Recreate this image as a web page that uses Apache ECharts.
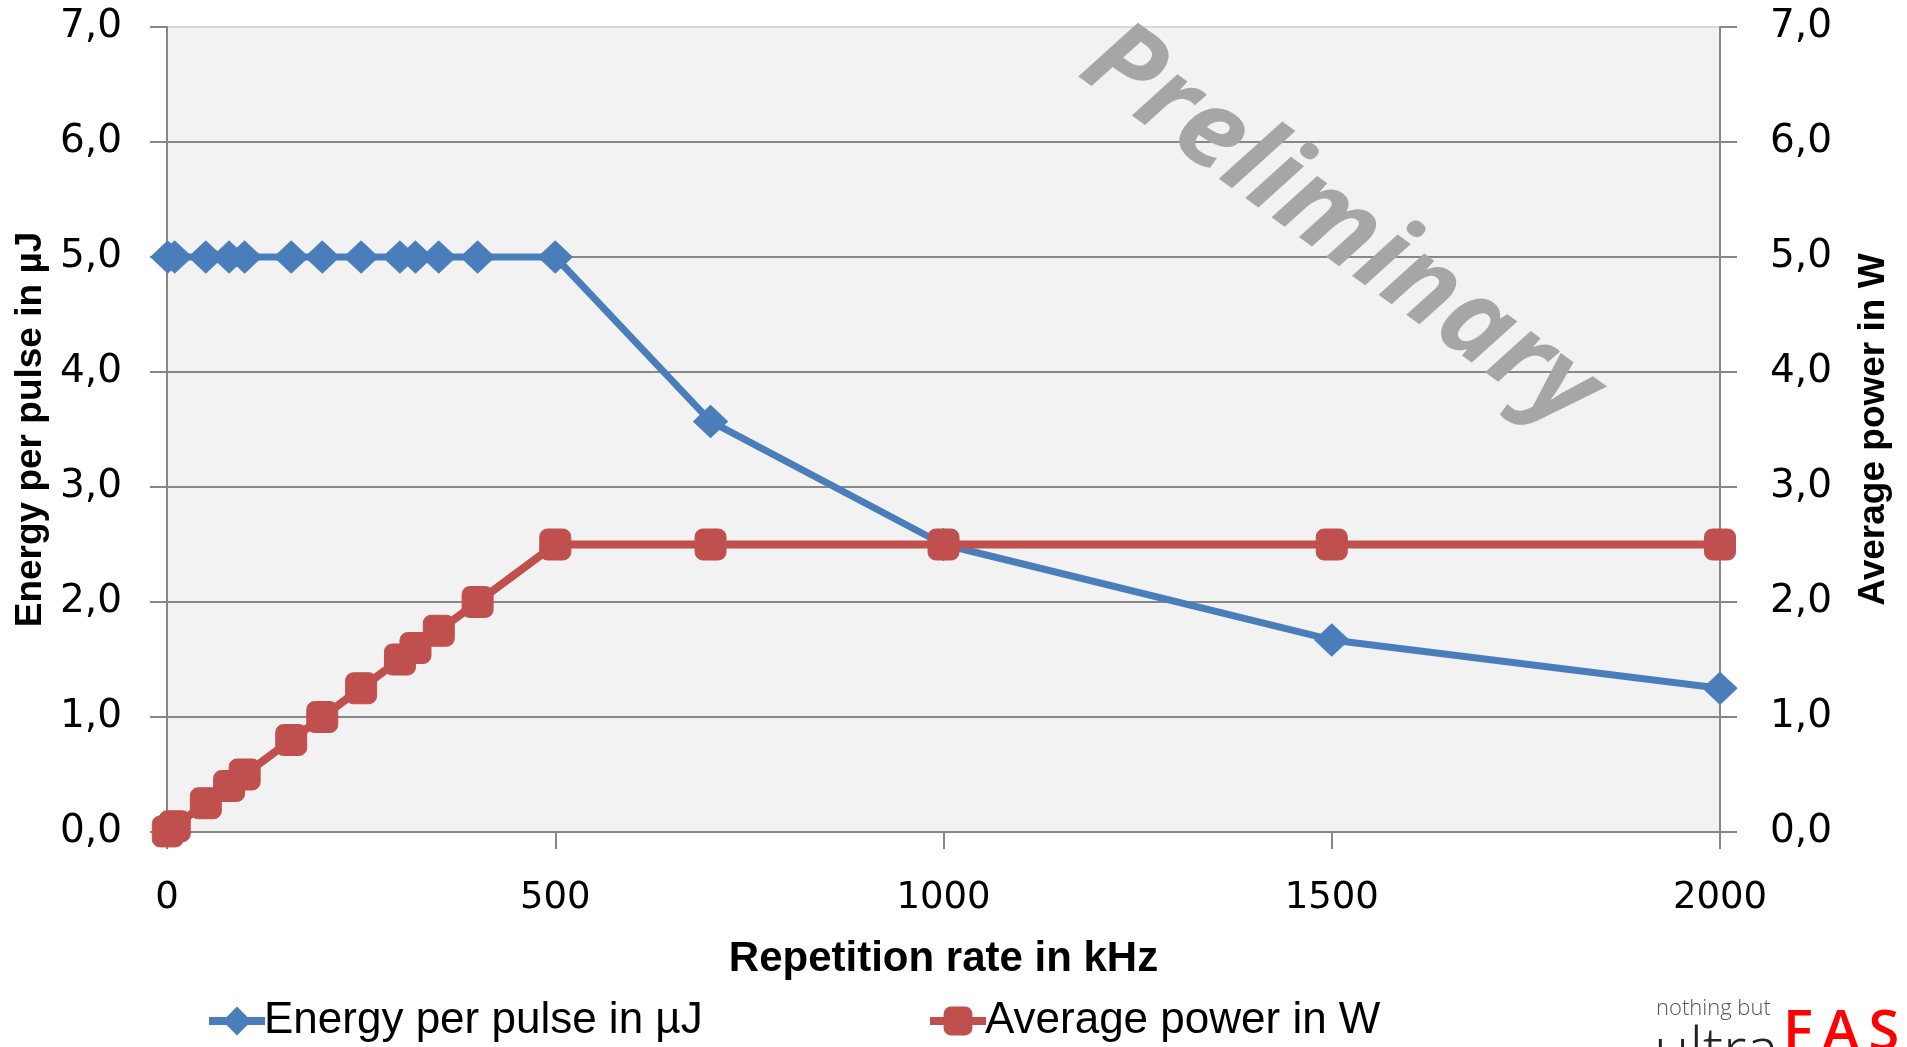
<!DOCTYPE html>
<html>
<head>
<meta charset="utf-8">
<title>Energy per pulse / Average power</title>
<script src="https://cdn.jsdelivr.net/npm/echarts@6/dist/echarts.min.js"></script>
<style>
  html, body { margin: 0; padding: 0; background: #fff; }
  #chart { width: 1907px; height: 1047px; }
</style>
</head>
<body>
<div id="chart"></div>
<script>
// repetition rate in kHz
var rate = [1, 10, 50, 80, 100, 160, 200, 250, 300, 320, 350, 400, 500, 700, 1000, 1500, 2000]
// energy per pulse in uJ
var energy = [5, 5, 5, 5, 5, 5, 5, 5, 5, 5, 5, 5, 5, 3.57, 2.5, 1.67, 1.25]
// average power in W
var power = [0.005, 0.05, 0.25, 0.4, 0.5, 0.8, 1.0, 1.25, 1.5, 1.6, 1.75, 2.0, 2.5, 2.5, 2.5, 2.5, 2.5]

var energyName = 'Energy per pulse in µJ'
var powerName = 'Average power in W'

var blue = '#4a7ebb'
var red = '#c0504d'
var gridGray = '#878787'
var tickFont = 'DejaVu Sans'
var narrowFont = '"Liberation Sans Narrow", "Liberation Sans", sans-serif'

function pairs (xs, ys) {
  return xs.map(function (x, i) { return [x, ys[i]] })
}

function commaLabel (v) {
  return v.toFixed(1).replace('.', ',')
}

var chart = echarts.init(document.getElementById('chart'), null, { renderer: 'canvas' })

chart.setOption({
  animation: false,
  backgroundColor: '#ffffff',
  grid: {
    left: 167,
    right: 187,
    top: 27,
    bottom: 215,
    show: true,
    backgroundColor: '#f2f2f2',
    borderWidth: 0
  },
  xAxis: {
    type: 'value',
    min: 0,
    max: 2000,
    interval: 500,
    name: 'Repetition rate in kHz',
    nameLocation: 'middle',
    nameGap: 106,
    nameTextStyle: {
      fontFamily: 'Liberation Sans',
      fontWeight: 'bold',
      fontSize: 42,
      color: '#000'
    },
    axisLine: { onZero: false, lineStyle: { color: gridGray, width: 2 } },
    axisTick: { show: true, inside: false, length: 17, lineStyle: { color: gridGray, width: 2 } },
    axisLabel: {
      margin: 48,
      fontFamily: tickFont,
      fontSize: 37,
      color: '#000',
      formatter: function (v) { return String(v) }
    },
    splitLine: { show: false }
  },
  yAxis: [{
    type: 'value',
    position: 'left',
    min: 0,
    max: 7,
    interval: 1,
    name: energyName,
    nameLocation: 'middle',
    nameRotate: 90,
    nameGap: 116,
    nameTextStyle: {
      fontFamily: narrowFont,
      fontWeight: 'bold',
      fontSize: 37,
      color: '#000'
    },
    axisLine: { show: true, lineStyle: { color: gridGray, width: 2 } },
    axisTick: { show: true, inside: false, length: 17, lineStyle: { color: gridGray, width: 2 } },
    axisLabel: {
      margin: 45,
      fontFamily: tickFont,
      fontSize: 39,
      color: '#000',
      formatter: commaLabel
    },
    splitLine: {
      show: true,
      lineStyle: {
        color: [gridGray, gridGray, gridGray, gridGray, gridGray, gridGray, gridGray, '#d9d9d9'],
        width: 2
      }
    }
  }, {
    type: 'value',
    position: 'right',
    min: 0,
    max: 7,
    interval: 1,
    name: powerName,
    nameLocation: 'middle',
    nameRotate: 90,
    nameGap: 135,
    nameTextStyle: {
      fontFamily: narrowFont,
      fontWeight: 'bold',
      fontSize: 37,
      color: '#000'
    },
    axisLine: { show: true, lineStyle: { color: gridGray, width: 2 } },
    axisTick: { show: true, inside: false, length: 17, lineStyle: { color: gridGray, width: 2 } },
    axisLabel: {
      margin: 50,
      fontFamily: tickFont,
      fontSize: 39,
      color: '#000',
      formatter: commaLabel
    },
    splitLine: { show: false }
  }],
  legend: [{
    data: [energyName],
    left: 200,
    top: 994,
    itemWidth: 56,
    itemHeight: 36,
    itemGap: 0,
    lineStyle: { width: 8 },
    textStyle: { fontFamily: narrowFont, fontSize: 44, color: '#000', padding: [0, 0, 0, -6] }
  }, {
    data: [powerName],
    left: 921,
    top: 994,
    itemWidth: 56,
    itemHeight: 36,
    itemGap: 0,
    lineStyle: { width: 8 },
    textStyle: { fontFamily: narrowFont, fontSize: 44, color: '#000', padding: [0, 0, 0, -6] }
  }],
  graphic: [{
    type: 'text',
    x: 1340,
    y: 228,
    rotation: -36 * Math.PI / 180,
    silent: true,
    z: 1,
    style: {
      text: 'Preliminary',
      fill: '#a6a6a6',
      font: 'italic bold 110px "Open Sans", sans-serif',
      align: 'center',
      verticalAlign: 'middle'
    }
  }, {
    type: 'text',
    left: 1656,
    top: 998,
    style: { text: 'nothing but', fill: '#555555', font: '300 22px "Open Sans", sans-serif' }
  }, {
    type: 'text',
    left: 1654,
    top: 1024,
    style: { text: 'ultra', fill: '#222222', font: '300 60px "Open Sans", sans-serif' }
  }, {
    type: 'text',
    left: 1783,
    top: 1006,
    style: { text: 'F\u2009A\u2009S\u2009T', fill: '#ff0000', font: '600 56px "Open Sans", sans-serif' }
  }],
  series: [{
    name: energyName,
    type: 'line',
    yAxisIndex: 0,
    data: pairs(rate, energy),
    symbol: 'diamond',
    symbolSize: [34, 32],
    z: 3,
    itemStyle: { color: blue, borderColor: blue },
    lineStyle: { color: blue, width: 7 }
  }, {
    name: powerName,
    type: 'line',
    yAxisIndex: 1,
    data: pairs(rate, power),
    symbol: 'roundRect',
    symbolSize: 31,
    z: 4,
    itemStyle: { color: red, borderColor: red },
    lineStyle: { color: red, width: 8 }
  }]
})
</script>
</body>
</html>
